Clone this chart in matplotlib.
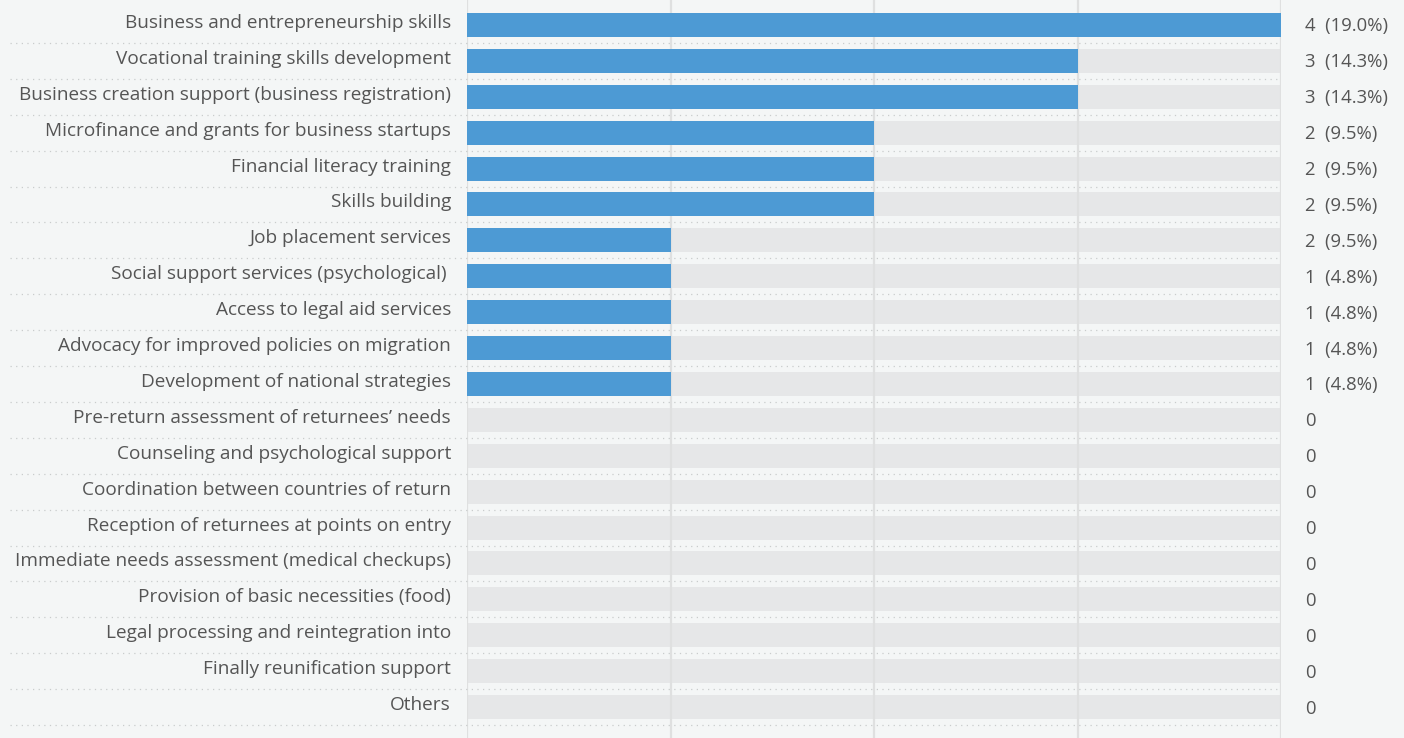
import matplotlib.pyplot as plt
import matplotlib.transforms as mtransforms

# categories top to bottom
categories = [
    'Business and entrepreneurship skills',
    'Vocational training skills development',
    'Business creation support (business registration)',
    'Microfinance and grants for business startups',
    'Financial literacy training',
    'Skills building',
    'Job placement services',
    'Social support services (psychological) ',
    'Access to legal aid services',
    'Advocacy for improved policies on migration',
    'Development of national strategies',
    'Pre-return assessment of returnees\u2019 needs',
    'Counseling and psychological support',
    'Coordination between countries of return',
    'Reception of returnees at points on entry',
    'Immediate needs assessment (medical checkups)',
    'Provision of basic necessities (food)',
    'Legal processing and reintegration into',
    'Finally reunification support',
    'Others',
]
counts = [4, 3, 3, 2, 2, 2, 1, 1, 1, 1, 1, 0, 0, 0, 0, 0, 0, 0, 0, 0]
value_labels = ['4  (19.0%)', '3  (14.3%)', '3  (14.3%)', '2  (9.5%)', '2  (9.5%)',
                '2  (9.5%)', '2  (9.5%)', '1  (4.8%)', '1  (4.8%)', '1  (4.8%)',
                '1  (4.8%)', '0', '0', '0', '0', '0', '0', '0', '0', '0']
xmax = 4

bg = '#f4f6f6'
blue = '#4d9ad4'
track = '#e6e7e8'
txt = '#555555'

plt.rcParams['font.family'] = ['Open Sans', 'DejaVu Sans']

fig = plt.figure(figsize=(14.04, 7.38), dpi=100, facecolor=bg)
ax = fig.add_axes([467 / 1404, 0, (1281 - 467) / 1404, 1])
ax.set_facecolor(bg)

n = len(categories)
pitch = 35.9
ax.set_xlim(0, xmax)
ax.set_ylim((738 - 25) / pitch, -25 / pitch)

ys = list(range(n))
ax.barh(ys, [xmax] * n, height=24 / pitch, color=track, zorder=1)
for gx in range(xmax + 1):
    ax.axvline(gx, color='#dfe0e0', lw=1.6, zorder=2)
ax.barh(ys, counts, height=24 / pitch, color=blue, zorder=3)

# dotted separators spanning the label area too
left_data = (10 - 467) / (1281 - 467) * xmax
for i in range(n):
    ax.plot([left_data, xmax], [i + 0.5, i + 0.5], color='#c9cccc', lw=0.9,
            ls=(0, (1, 3.5)), clip_on=False, zorder=2)

for i, lab in enumerate(value_labels):
    ax.text(xmax + (1305 - 1281) / (1281 - 467) * xmax, i + 0.04, lab,
            va='center', ha='left', fontsize=13.3, color=txt, clip_on=False)

ax.set_yticks(ys)
ax.set_yticklabels(categories, fontsize=13.7, color=txt)
ax.tick_params(axis='y', length=0, pad=11.5)
up = mtransforms.ScaledTranslation(0, 4 / 100, fig.dpi_scale_trans)
for t in ax.get_yticklabels():
    t.set_transform(t.get_transform() + up)
ax.set_xticks([])
for s in ax.spines.values():
    s.set_visible(False)

fig.savefig('out.png', dpi=100, facecolor=bg)
